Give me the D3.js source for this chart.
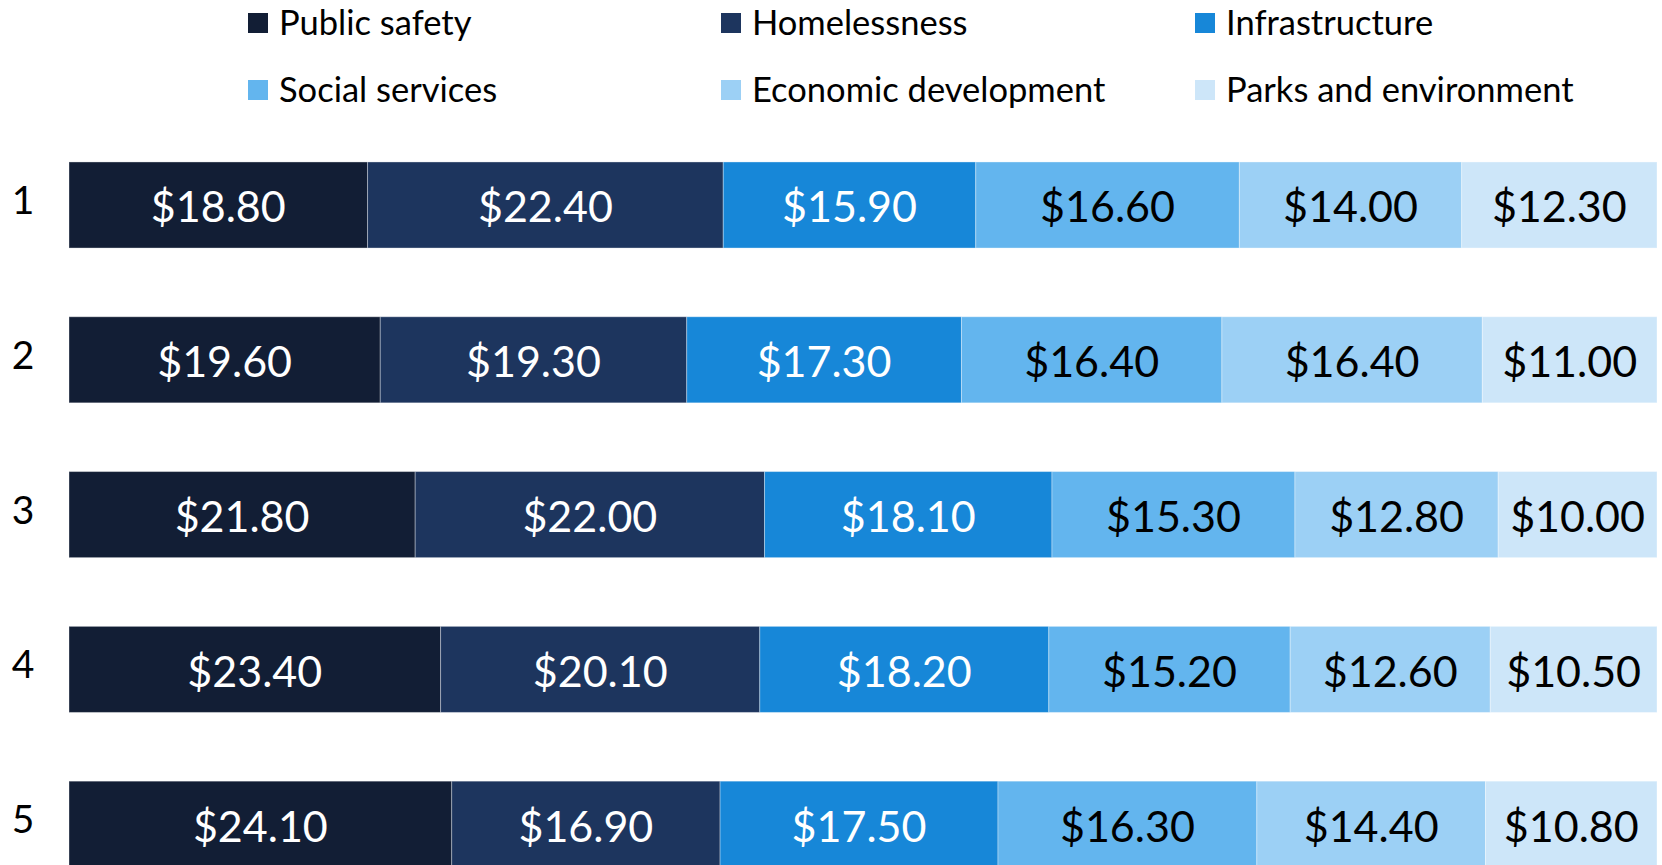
<!DOCTYPE html>
<html>
<head>
<meta charset="utf-8">
<script src="https://cdn.jsdelivr.net/npm/d3@7"></script>
<style>
  html, body { margin: 0; padding: 0; background: #ffffff; overflow: hidden; }
  svg { display: block; font-family: Lato, "Open Sans", sans-serif; }
</style>
</head>
<body>
<svg id="chart" width="1662" height="865"></svg>
<script>
// Spending shares per group (each row sums to 100)
const groups = ["1", "2", "3", "4", "5"];
const seriesNames = ["Public safety", "Homelessness", "Infrastructure", "Social services", "Economic development", "Parks and environment"];
const publicSafety   = [18.8, 19.6, 21.8, 23.4, 24.1];
const homelessness   = [22.4, 19.3, 22.0, 20.1, 16.9];
const infrastructure = [15.9, 17.3, 18.1, 18.2, 17.5];
const socialServices = [16.6, 16.4, 15.3, 15.2, 16.3];
const economicDev    = [14.0, 16.4, 12.8, 12.6, 14.4];
const parksEnv       = [12.3, 11.0, 10.0, 10.5, 10.8];
const colors = ["#121e35", "#1d355e", "#1787d8", "#63b5ee", "#9cd0f5", "#cde6f9"];
const labelColors = ["#ffffff", "#ffffff", "#ffffff", "#000000", "#000000", "#000000"];

const seriesValues = [publicSafety, homelessness, infrastructure, socialServices, economicDev, parksEnv];
const rows = groups.map((g, i) => {
  const r = { group: g };
  seriesNames.forEach((s, j) => { r[s] = seriesValues[j][i]; });
  return r;
});

const svg = d3.select("#chart");
const margin = { left: 69, right: 5, top: 162 };

const stacked = d3.stack().keys(seriesNames).offset(d3.stackOffsetExpand)(rows);

const x = d3.scaleLinear().domain([0, 1]).range([margin.left, 1662 - margin.right]);
const y = d3.scaleBand().domain(groups).range([margin.top - 34.4, margin.top - 34.4 + 5 * 154.8])
  .paddingInner(0.444).paddingOuter(0.222);

const fmt = v => "$" + d3.format(".2f")(v);

// Segments
const layers = svg.append("g").selectAll("g").data(stacked).join("g")
  .attr("fill", (d, i) => colors[i]);

layers.selectAll("rect").data(d => d).join("rect")
  .attr("x", d => x(d[0]))
  .attr("y", d => y(d.data.group))
  .attr("width", d => x(d[1]) - x(d[0]))
  .attr("height", y.bandwidth())
  .attr("stroke", "rgba(255,255,255,0.35)")
  .attr("stroke-width", 1);

// Value labels
stacked.forEach((layer, i) => {
  svg.append("g").selectAll("text").data(layer).join("text")
    .attr("x", d => (x(d[0]) + x(d[1])) / 2)
    .attr("y", d => y(d.data.group) + y.bandwidth() / 2 + 2)
    .attr("dy", "0.36em")
    .attr("text-anchor", "middle")
    .attr("fill", labelColors[i])
    .attr("font-size", 43)
    .text(d => fmt(d.data[layer.key]));
});

// Group labels
svg.append("g").selectAll("text").data(groups).join("text")
  .attr("x", 23)
  .attr("y", g => y(g) + y.bandwidth() / 2 - 5)
  .attr("dy", "0.36em")
  .attr("text-anchor", "middle")
  .attr("fill", "#000000")
  .attr("font-size", 39)
  .text(g => g);

// Legend: three columns, two rows
const legendX = [248, 721, 1195];
const legendY = [23, 90];
const legend = svg.append("g").selectAll("g").data(seriesNames).join("g")
  .attr("transform", (d, i) => `translate(${legendX[i % 3]},${legendY[Math.floor(i / 3)]})`);
legend.append("rect")
  .attr("x", 0).attr("y", -10).attr("width", 20).attr("height", 20)
  .attr("fill", (d, i) => colors[i]);
legend.append("text")
  .attr("x", 31).attr("y", 0).attr("dy", "0.36em")
  .attr("font-size", 34.5)
  .attr("fill", "#000000")
  .text(d => d);
</script>
</body>
</html>
